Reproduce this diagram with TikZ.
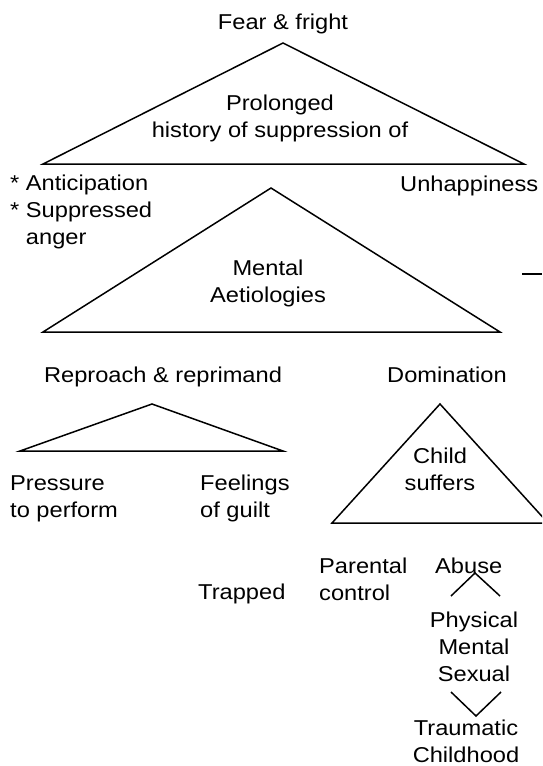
\documentclass[tikz,border=0pt]{standalone}
\usepackage{fontspec}
\setmainfont{Liberation Sans}[FakeStretch=1.1]
\tikzset{
  lbl/.style={inner sep=0pt, font=\fontsize{21.5}{27}\selectfont},
  ln/.style={line width=1.5pt, line join=miter},
}
\begin{document}
\begin{tikzpicture}[x=1pt, y=-1pt]
\clip (0,0) rectangle (542,766);
% triangle corners
\coordinate (top1) at (283,43);
\coordinate (left1) at (43,164);
\coordinate (right1) at (524,164);
\coordinate (top2) at (271,188);
\coordinate (left2) at (43,332);
\coordinate (right2) at (500,332);
\coordinate (top3) at (152,404);
\coordinate (left3) at (20,451);
\coordinate (right3) at (283,451);
\coordinate (top4) at (440,404);
\coordinate (left4) at (332,523);
\coordinate (right4) at (548,523);
\draw [ln](top1) -- (left1) -- (right1) -- cycle;
\draw [ln](top2) -- (left2) -- (right2) -- cycle;
\draw [ln](top3) -- (left3) -- (right3) -- cycle;
\draw [ln](top4) -- (left4) -- (right4) -- cycle;
% labels (multi-line ones sit on their last line)
\node [lbl, anchor=base](fear) at (283,29){Fear \& fright};
\node [lbl, anchor=base, align=center](prolonged) at (280,137){Prolonged\\history of suppression of};
\node [lbl, anchor=base west, align=left](anticip) at (10,244){* Anticipation\\* Suppressed\\\phantom{* }anger};
\node [lbl, anchor=base west](unhappy) at (400,191){Unhappiness};
\node [lbl, anchor=base, align=center](mental) at (268,302){Mental\\Aetiologies};
\node [lbl, anchor=base](reproach) at (163,382){Reproach \& reprimand};
\node [lbl, anchor=base](domination) at (447,382){Domination};
\node [lbl, anchor=base west, align=left](pressure) at (10,517){Pressure\\to perform};
\node [lbl, anchor=base west, align=left](guilt) at (200,517){Feelings\\of guilt};
\node [lbl, anchor=base, align=center](child) at (440,490){Child\\suffers};
\node [lbl, anchor=base west](trapped) at (198,599){Trapped};
\node [lbl, anchor=base west, align=left](parental) at (319,600){Parental\\control};
\node [lbl, anchor=base west](abuse) at (435,573){Abuse};
\node [lbl, anchor=base, align=center](kinds) at (474,681){Physical\\Mental\\Sexual};
\node [lbl, anchor=base, align=center](trauma) at (466,762){Traumatic\\Childhood};
% small marks
\coordinate (abl) at (451,596);
\coordinate (abt) at (475,573);
\coordinate (abr) at (500,596);
\coordinate (trl) at (451,692);
\coordinate (trb) at (476,716);
\coordinate (trr) at (501,692);
\draw [ln](abl) -- (abt) -- (abr);
\draw [ln](trl) -- (trb) -- (trr);
\coordinate (dashl) at (522,274);
\coordinate (dashr) at (542,274);
\draw [ln](dashl) -- (dashr);
\end{tikzpicture}
\end{document}
